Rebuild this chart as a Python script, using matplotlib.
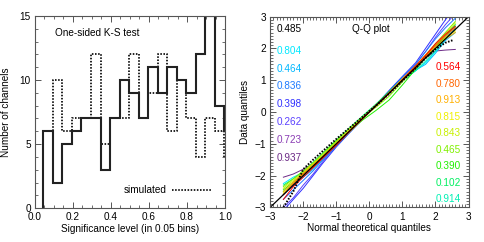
import numpy as np
import matplotlib
matplotlib.use("Agg")
import matplotlib.pyplot as plt
from matplotlib.ticker import MultipleLocator

plt.rcParams["font.family"] = ["Liberation Sans", "DejaVu Sans"]
plt.rcParams["font.size"] = 7.2

# --- left panel: K-S significance histogram (0.05 bins) ---
bin_edges = [0.045, 0.095, 0.145, 0.195, 0.245, 0.295, 0.345, 0.395, 0.445, 0.495,
             0.545, 0.595, 0.645, 0.695, 0.745, 0.795, 0.845, 0.895, 0.945, 0.995]
observed = [6, 2, 5, 6, 7, 7, 3, 7, 10, 9, 7, 11, 9, 11, 10, 9, 12, 15, 8]
observed_end = 6
simulated = [6, 10, 6, 7, 7, 12, 5, 7, 7, 12, 7, 9, 12, 6, 10, 7, 4, 7, 6]
simulated_end = 4

# --- right panel: Q-Q curves per channel ---
qx = [-2.6, -2.3, -2.0, -1.7, -1.4, -1.0, -0.6, -0.2, 0.2, 0.6, 1.0, 1.4, 1.7, 2.0, 2.3, 2.6]
channels = [
    ("0.937", "#6c2a86", [-2.05, -1.95, -1.8, -1.62, -1.38, -1.0, -0.6, -0.2, 0.2, 0.6, 1.0, 1.35, 1.7, 1.92, 1.95, 1.97]),
    ("0.723", "#8a3cb4", [-2.6, -2.3, -2.0, -1.72, -1.42, -1.0, -0.6, -0.18, 0.2, 0.6, 1.0, 1.38, 1.72, 2.05, 2.35, 2.6]),
    ("0.262", "#5a40ff", [-3.0, -2.7, -2.3, -1.95, -1.55, -1.05, -0.62, -0.2, 0.22, 0.65, 1.1, 1.5, 1.9, 2.35, 2.75, 3.1]),
    ("0.398", "#3030ff", [-3.1, -2.75, -2.4, -2.0, -1.6, -1.1, -0.65, -0.22, 0.22, 0.68, 1.12, 1.55, 2.0, 2.45, 2.9, 3.3]),
    ("0.836", "#1e7bff", [-2.75, -2.45, -2.15, -1.85, -1.5, -1.08, -0.65, -0.22, 0.22, 0.65, 1.1, 1.5, 1.9, 2.3, 2.65, 2.95]),
    ("0.464", "#00b8ff", [-2.6, -2.3, -2.05, -1.8, -1.48, -1.05, -0.63, -0.22, 0.2, 0.6, 1.02, 1.32, 1.5, 1.85, 2.25, 2.5]),
    ("0.804", "#00e8ff", [-2.25, -2.05, -1.9, -1.65, -1.38, -1.0, -0.6, -0.2, 0.22, 0.6, 1.0, 1.3, 1.55, 1.9, 2.3, 2.65]),
    ("0.914", "#00f0b4", [-2.5, -2.25, -2.0, -1.7, -1.4, -1.02, -0.62, -0.2, 0.2, 0.6, 0.98, 1.3, 1.6, 1.92, 2.3, 2.6]),
    ("0.102", "#00f060", [-2.3, -2.1, -1.88, -1.58, -1.28, -0.88, -0.5, -0.12, 0.25, 0.65, 1.05, 1.42, 1.75, 2.1, 2.4, 2.75]),
    ("0.390", "#20f000", [-2.45, -2.2, -1.95, -1.65, -1.35, -0.92, -0.6, -0.25, 0.05, 0.38, 0.85, 1.35, 1.7, 2.05, 2.4, 2.7]),
    ("0.465", "#80f000", [-2.35, -2.1, -1.85, -1.6, -1.3, -0.9, -0.52, -0.15, 0.15, 0.5, 0.95, 1.45, 1.8, 2.15, 2.5, 2.85]),
    ("0.843", "#c8f000", [-2.4, -2.15, -1.9, -1.62, -1.35, -0.95, -0.55, -0.18, 0.2, 0.58, 0.98, 1.4, 1.72, 2.1, 2.45, 2.8]),
    ("0.815", "#f0f000", [-2.55, -2.25, -1.98, -1.7, -1.4, -1.0, -0.62, -0.22, 0.18, 0.6, 1.0, 1.4, 1.7, 2.0, 2.35, 2.55]),
    ("0.913", "#ffb000", [-2.5, -2.2, -1.92, -1.65, -1.38, -0.98, -0.58, -0.2, 0.2, 0.62, 1.05, 1.45, 1.8, 2.05, 2.3, 2.5]),
    ("0.780", "#ff6400", [-2.6, -2.25, -1.95, -1.72, -1.42, -1.02, -0.6, -0.18, 0.22, 0.6, 1.0, 1.38, 1.75, 2.1, 2.4, 2.65]),
    ("0.564", "#ff0000", [-2.75, -2.35, -2.05, -1.75, -1.45, -1.05, -0.62, -0.2, 0.2, 0.58, 1.02, 1.45, 1.78, 2.15, 2.45, 2.7]),
]
sim_qx = [-2.6, -2.3, -2.0, -1.7, -1.4, -1.0, -0.6, -0.2, 0.2, 0.6, 1.0, 1.4, 1.7, 2.0, 2.3, 2.55]
sim_qy = [-3.0, -2.5, -1.8, -1.5, -1.22, -0.85, -0.5, -0.15, 0.2, 0.58, 0.98, 1.38, 1.7, 1.98, 2.18, 2.27]
sim_label = "0.485"

frame_col = "#555555"


def step_path(edges, values, start, end):
    xs = np.concatenate([[edges[0]], np.repeat(edges, 2)[1:-1], [edges[-1]]])
    ys = np.concatenate([[start], np.repeat(values, 2), [end]])
    return xs, ys


def style_axes(ax):
    ax.tick_params(which="both", direction="in", top=True, right=True,
                   color=frame_col, labelsize=7.2, pad=3)
    ax.tick_params(which="major", length=4, width=0.7)
    ax.tick_params(which="minor", length=2, width=0.6)
    for s in ax.spines.values():
        s.set_color(frame_col)
        s.set_linewidth(0.8)


fig = plt.figure(figsize=(4.85, 2.42), dpi=100)

# left panel
ax1 = fig.add_axes([0.072, 0.140, 0.392, 0.794])
xs, ys = step_path(bin_edges, simulated, 0, simulated_end)
ax1.plot(xs, ys, color="#222222", lw=1.4, ls=(0, (0.8, 0.8)), label="simulated")
xs, ys = step_path(bin_edges, observed, 0, observed_end)
ax1.plot(xs, ys, color="#222222", lw=1.5, solid_joinstyle="miter")
ax1.set_xlim(0, 1)
ax1.set_ylim(0, 15)
ax1.xaxis.set_major_locator(MultipleLocator(0.2))
ax1.xaxis.set_minor_locator(MultipleLocator(0.05))
ax1.yaxis.set_major_locator(MultipleLocator(5))
ax1.yaxis.set_minor_locator(MultipleLocator(1))
ax1.xaxis.set_major_formatter(plt.FormatStrFormatter("%.1f"))
style_axes(ax1)
ax1.set_xlabel("Significance level (in 0.05 bins)", labelpad=1)
ax1.set_ylabel("Number of channels", labelpad=6)
ax1.text(0.105, 13.65, "One-sided K-S test", va="center", ha="left")
ax1.legend(loc="lower right", bbox_to_anchor=(0.98, 0.02), frameon=False, markerfirst=False,
           handlelength=4.0, handletextpad=0.6, fontsize=7.2)

# right panel
ax2 = fig.add_axes([0.557, 0.143, 0.409, 0.788])
for name, col, qy in channels:
    ax2.plot(qx, qy, color=col, lw=0.7)
ax2.plot(sim_qx, sim_qy, color="black", lw=1.4, ls=(0, (0.8, 0.8)))
ax2.plot([-3, 3], [-3, 3], color="black", lw=0.9)
ax2.set_xlim(-3, 3)
ax2.set_ylim(-3, 3)
ax2.xaxis.set_major_locator(MultipleLocator(1))
ax2.xaxis.set_minor_locator(MultipleLocator(0.1))
ax2.yaxis.set_major_locator(MultipleLocator(1))
ax2.yaxis.set_minor_locator(MultipleLocator(0.1))
style_axes(ax2)
ax2.set_xlabel("Normal theoretical quantiles", labelpad=1)
ax2.set_ylabel("Data quantiles", labelpad=3)
ax2.text(0.05, 2.6, "Q-Q plot", ha="center", va="center")
ax2.text(-2.8, 2.6, sim_label, color="black", ha="left", va="center")

# labels: left column from cyan up to dark purple, right column red to aquamarine
left_names = ["0.804", "0.464", "0.836", "0.398", "0.262", "0.723", "0.937"]
right_names = ["0.564", "0.780", "0.913", "0.815", "0.843", "0.465", "0.390", "0.102", "0.914"]
colour_of = {name: col for name, col, _ in channels}
for i, name in enumerate(left_names):
    ax2.text(-2.8, 1.93 - 0.563 * i, name, color=colour_of[name], ha="left", va="center")
for i, name in enumerate(right_names):
    ax2.text(2.02, 1.41 - 0.519 * i, name, color=colour_of[name], ha="left", va="center")

fig.savefig("out.png", dpi=100)
